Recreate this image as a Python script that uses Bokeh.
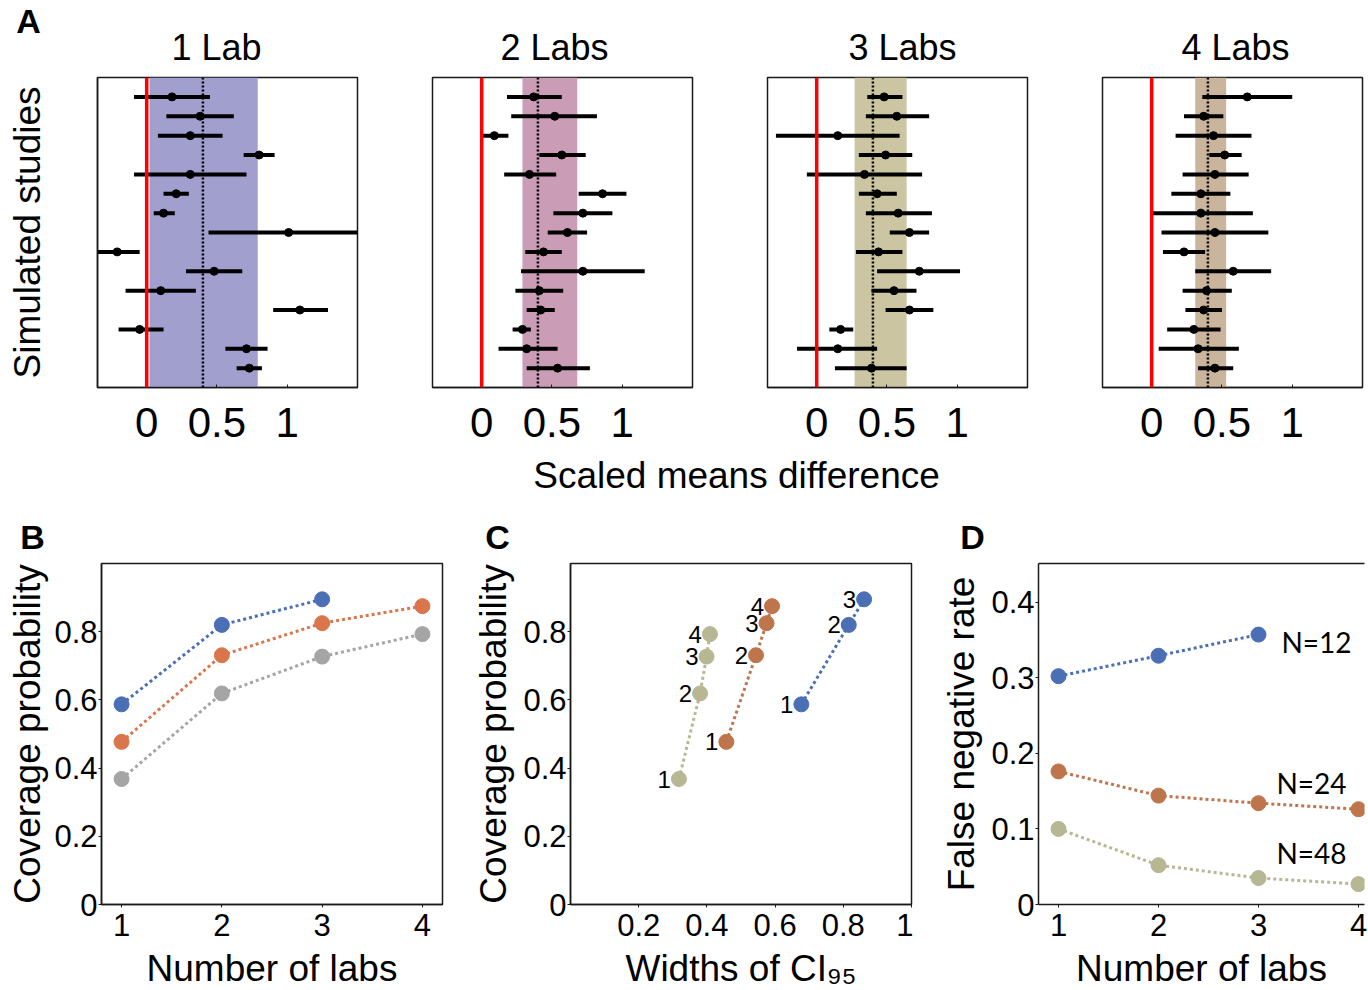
from bokeh.plotting import figure
from bokeh.models import Range1d, FixedTicker, Label, BoxAnnotation, Span, LinearAxis
from bokeh.layouts import column, row
from bokeh.embed import file_html
from bokeh.resources import INLINE
from bokeh.core.properties import value

# ---------------- data ----------------
# Panel A: 15 simulated studies per panel, top to bottom
study_rows = [15, 14, 13, 12, 11, 10, 9, 8, 7, 6, 5, 4, 3, 2, 1]
lab_titles = ["1 Lab", "2 Labs", "3 Labs", "4 Labs"]

lab1_mean = [0.18, 0.38, 0.31, 0.80, 0.31, 0.21, 0.12, 1.01, -0.21, 0.48, 0.10, 1.09, -0.05, 0.71, 0.73]
lab1_lo = [-0.09, 0.14, 0.08, 0.69, -0.09, 0.12, 0.05, 0.44, -0.38, 0.28, -0.15, 0.90, -0.20, 0.56, 0.64]
lab1_hi = [0.45, 0.62, 0.54, 0.91, 0.71, 0.30, 0.20, 1.62, -0.05, 0.68, 0.35, 1.29, 0.12, 0.86, 0.82]

lab2_mean = [0.37, 0.52, 0.09, 0.57, 0.34, 0.86, 0.72, 0.61, 0.44, 0.72, 0.41, 0.42, 0.29, 0.32, 0.54]
lab2_lo = [0.18, 0.21, -0.01, 0.41, 0.16, 0.69, 0.51, 0.47, 0.31, 0.28, 0.24, 0.32, 0.22, 0.12, 0.32]
lab2_hi = [0.57, 0.82, 0.19, 0.74, 0.53, 1.03, 0.93, 0.75, 0.57, 1.16, 0.58, 0.52, 0.35, 0.54, 0.77]

lab3_mean = [0.48, 0.57, 0.15, 0.49, 0.34, 0.43, 0.58, 0.66, 0.44, 0.73, 0.55, 0.66, 0.17, 0.15, 0.39]
lab3_lo = [0.36, 0.35, -0.29, 0.30, -0.07, 0.30, 0.35, 0.52, 0.28, 0.43, 0.39, 0.49, 0.09, -0.14, 0.13]
lab3_hi = [0.61, 0.80, 0.59, 0.68, 0.75, 0.57, 0.82, 0.80, 0.61, 1.02, 0.71, 0.83, 0.26, 0.43, 0.64]

lab4_mean = [0.68, 0.37, 0.44, 0.52, 0.45, 0.35, 0.35, 0.45, 0.23, 0.58, 0.39, 0.37, 0.30, 0.33, 0.45]
lab4_lo = [0.36, 0.23, 0.17, 0.41, 0.22, 0.14, -0.01, 0.07, 0.08, 0.31, 0.22, 0.24, 0.11, 0.05, 0.33]
lab4_hi = [1.00, 0.51, 0.71, 0.64, 0.69, 0.56, 0.72, 0.83, 0.38, 0.85, 0.57, 0.50, 0.49, 0.62, 0.58]

band_lo = [0.02, 0.29, 0.27, 0.31]
band_hi = [0.79, 0.68, 0.64, 0.53]
pooled_estimate = [0.40, 0.40, 0.40, 0.40]
null_effect = 0

a_ticks = [0, 0.5, 1]

# Panels B-D
labs_n12 = [1, 2, 3]
labs_n24 = [1, 2, 3, 4]
labs_n48 = [1, 2, 3, 4]

coverage_n12 = [0.587, 0.820, 0.895]
coverage_n24 = [0.477, 0.731, 0.825, 0.875]
coverage_n48 = [0.368, 0.619, 0.727, 0.793]

ci_width_n12 = [0.677, 0.816, 0.861]
ci_width_n24 = [0.457, 0.544, 0.575, 0.591]
ci_width_n48 = [0.318, 0.380, 0.399, 0.409]

fnr_n12 = [0.302, 0.329, 0.357]
fnr_n24 = [0.176, 0.144, 0.134, 0.126]
fnr_n48 = [0.100, 0.052, 0.035, 0.027]

n_labels = ["N=12", "N=24", "N=48"]
n_label_x = [3.58, 3.53, 3.53]
n_label_y = [0.347, 0.1605, 0.068]

cov_ticks = [0, 0.2, 0.4, 0.6, 0.8]
lab_ticks = [1, 2, 3, 4]
width_ticks = [0.2, 0.4, 0.6, 0.8, 1]
fnr_ticks = [0, 0.1, 0.2, 0.3, 0.4]

# ---------------- styles ----------------
FONT = "Liberation Sans"
BAND_COLORS = ["#a09fce", "#cb9cb6", "#cbc5a1", "#cab59c"]
BLUE = "#4a6fb5"
ORANGE_B = "#da764b"
GRAY_B = "#a5a5a5"
ORANGE = "#be754c"
KHAKI = "#b7b794"
AXC = "#1a1a1a"

# layout geometry (pixels)
TITLE_X = [216, 554, 902, 1235]
LETTER_POS = {"A": (28, 20), "B": (32, 536), "C": (497, 536), "D": (972, 536)}


def style_axis(ax, tick_size):
    ax.major_label_text_font = FONT
    ax.major_label_text_font_size = tick_size
    ax.major_label_text_color = "black"
    ax.axis_label_text_font = FONT
    ax.axis_label_text_font_size = "37px"
    ax.axis_label_text_font_style = "normal"
    ax.axis_label_text_color = "black"
    ax.axis_line_color = AXC
    ax.axis_line_width = 1.5
    ax.minor_tick_line_color = None
    ax.major_tick_line_color = AXC


def strip(width, height):
    s = figure(width=width, height=height, x_range=Range1d(0, 1), y_range=Range1d(0, 1),
               min_border=0, x_axis_location=None, y_axis_location=None,
               output_backend="svg", toolbar_location=None)
    s.grid.visible = False
    s.outline_line_color = None
    return s


def text_label(s, text, x, y, size, bold=False):
    s.add_layout(Label(x=x, y=y, x_units="screen", y_units="screen", text=text,
                       text_font=FONT, text_font_size=size,
                       text_font_style="bold" if bold else "normal",
                       text_align="center", text_baseline="middle", text_color="black"))


# ---- top strip: panel letter A and the panel titles ----
TOP_H = 69
top = strip(1364, TOP_H)
text_label(top, "A", LETTER_POS["A"][0], TOP_H - LETTER_POS["A"][1], "34px", bold=True)
for t, tx in zip(lab_titles, TITLE_X):
    text_label(top, t, tx, TOP_H - 47, "36px")

# ---- panel A row ----
a_means = [lab1_mean, lab2_mean, lab3_mean, lab4_mean]
a_lo = [lab1_lo, lab2_lo, lab3_lo, lab4_lo]
a_hi = [lab1_hi, lab2_hi, lab3_hi, lab4_hi]

a_figs = []
for i in range(4):
    first = i == 0
    p = figure(frame_width=260, frame_height=310,
               x_range=Range1d(-0.35, 1.5), y_range=Range1d(0, 16),
               min_border_left=97 if first else 73, min_border_right=2,
               min_border_top=8, min_border_bottom=60,
               y_axis_location="left" if first else None,
               output_backend="svg", toolbar_location=None)
    p.grid.visible = False
    p.outline_line_color = AXC
    p.outline_line_width = 1.5
    p.outline_line_alpha = 1

    p.add_layout(BoxAnnotation(left=band_lo[i], right=band_hi[i], fill_color=BAND_COLORS[i],
                               fill_alpha=1, line_color=None, level="underlay"))
    p.segment(x0=a_lo[i], y0=study_rows, x1=a_hi[i], y1=study_rows,
              line_color="black", line_width=4)
    p.scatter(a_means[i], study_rows, size=8, color="black")
    p.add_layout(Span(location=pooled_estimate[i], dimension="height", line_color="black",
                      line_width=2.5, line_dash="2 2"))
    p.add_layout(Span(location=null_effect, dimension="height", line_color="#ff0000",
                      line_width=3.5))

    xa = p.xaxis[0]
    style_axis(xa, "42px")
    xa.ticker = FixedTicker(ticks=a_ticks)
    xa.major_label_overrides = {0: "0", 0.5: "0.5", 1: "1"}
    xa.major_tick_in = 3
    xa.major_tick_out = 0
    xa.major_label_standoff = 20
    if first:
        ya = p.yaxis[0]
        style_axis(ya, "10px")
        ya.ticker = FixedTicker(ticks=[])
        ya.major_tick_line_color = None
        ya.axis_label = "Simulated studies"
        ya.axis_label_standoff = 50
    a_figs.append(p)

# ---- middle strip: shared x label of A, and letters B, C, D ----
MID_H = 108
mid = strip(1368, MID_H)
text_label(mid, "Scaled means difference", 736, MID_H - (475 - 447), "37px")
for k in ["B", "C", "D"]:
    lx, ly = LETTER_POS[k]
    text_label(mid, k, lx, MID_H - (ly - 447), "34px", bold=True)


def bottom_fig(xr, yr, left, fw, right, ylabel_standoff):
    p = figure(frame_width=fw, frame_height=341, x_range=xr, y_range=yr,
               min_border_left=left, min_border_right=right,
               min_border_top=8, min_border_bottom=84,
               output_backend="svg", toolbar_location=None)
    p.grid.visible = False
    p.outline_line_color = AXC
    p.outline_line_width = 1.5
    xb = p.xaxis[0]
    yl = p.yaxis[0]
    for ax in (xb, yl):
        style_axis(ax, "31px")
        ax.major_tick_in = 0
        ax.major_tick_out = 3
    xb.major_label_standoff = 6
    xb.axis_label_standoff = 9
    yl.major_label_standoff = 1
    yl.axis_label_standoff = ylabel_standoff
    return p, xb, yl


def series(p, xs, ys, color):
    p.line(xs, ys, line_color=color, line_width=3, line_dash="3 3")
    p.scatter(xs, ys, size=15, color=color)


# Panel B
pb, pb_x, pb_y = bottom_fig(Range1d(0.8, 4.2), Range1d(0, 1.0), 101, 341, 2, 3)
series(pb, labs_n12, coverage_n12, BLUE)
series(pb, labs_n24, coverage_n24, ORANGE_B)
series(pb, labs_n48, coverage_n48, GRAY_B)
pb_x.ticker = FixedTicker(ticks=lab_ticks)
pb_y.ticker = FixedTicker(ticks=cov_ticks)
pb_y.major_label_overrides = {0: "0"}
pb_x.axis_label = "Number of labs"
pb_y.axis_label = "Coverage probability"

# Panel C
pc, pc_x, pc_y = bottom_fig(Range1d(0, 1), Range1d(0, 1.0), 126, 341, 2, 6)
for xs, ys, labs, col in [(ci_width_n48, coverage_n48, labs_n48, KHAKI),
                          (ci_width_n24, coverage_n24, labs_n24, ORANGE),
                          (ci_width_n12, coverage_n12, labs_n12, BLUE)]:
    series(pc, xs, ys, col)
    pc.text(x=xs, y=ys, text=[str(v) for v in labs], x_offset=-8,
            text_align="right", text_baseline="middle", text_font=value(FONT),
            text_font_size="24px", text_color="black")
pc_x.ticker = FixedTicker(ticks=width_ticks)
pc_x.major_label_overrides = {1: "1"}
pc_y.ticker = FixedTicker(ticks=cov_ticks)
pc_y.major_label_overrides = {0: "0"}
pc_x.axis_label = "Widths of CI\u2089\u2085"
pc_y.axis_label = "Coverage probability"

# Panel D (right edge runs off the page in the original)
pd_, pd_x, pd_y = bottom_fig(Range1d(0.8, 4.06), Range1d(0, 0.451), 125, 326, 4, 6)
pd_.outline_line_color = None
series(pd_, labs_n12, fnr_n12, BLUE)
series(pd_, labs_n24, fnr_n24, ORANGE)
series(pd_, labs_n48, fnr_n48, KHAKI)
pd_.text(x=n_label_x, y=n_label_y, text=n_labels, text_align="center", text_baseline="middle",
         text_font=value("Lato"), text_font_size="28px", text_color="black")
pd_x.ticker = FixedTicker(ticks=lab_ticks)
pd_y.ticker = FixedTicker(ticks=fnr_ticks)
pd_y.major_label_overrides = {0: "0"}
pd_x.axis_label = "Number of labs"
pd_y.axis_label = "False negative rate"
top_axis = LinearAxis(ticker=FixedTicker(ticks=[]), axis_line_color=AXC, axis_line_width=1.5,
                      major_tick_line_color=None, minor_tick_line_color=None)
pd_.add_layout(top_axis, "above")

layout = column(top, row(*a_figs), mid, row(pb, pc, pd_))

with open("out.html", "w") as f:
    f.write(file_html(layout, INLINE))
